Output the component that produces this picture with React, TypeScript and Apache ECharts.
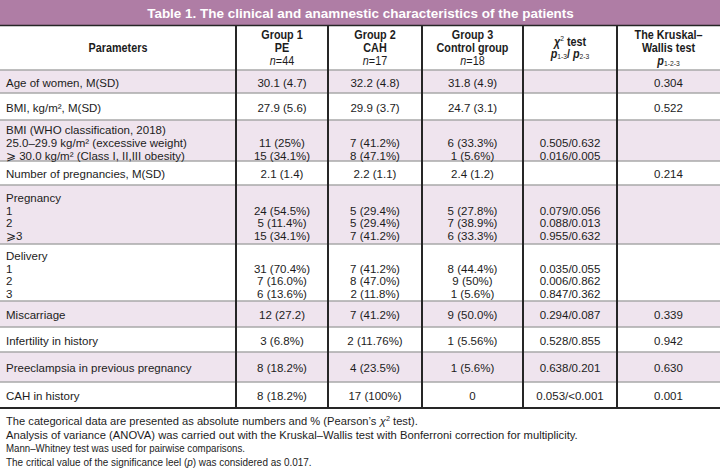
import React, { useEffect, useRef } from "react";
import * as echarts from "echarts";

const titleText = "Table 1. The clinical and anamnestic characteristics of the patients";

const parameters: string[][] = [
  ["Age of women, M(SD)"],
  ["BMI, kg/m², M(SD)"],
  ["BMI (WHO classification, 2018)", "25.0–29.9 kg/m² (excessive weight)", "⩾ 30.0 kg/m² (Class I, II,III obesity)"],
  ["Number of pregnancies, M(SD)"],
  ["Pregnancy", "1", "2", "⩾3"],
  ["Delivery", "1", "2", "3"],
  ["Miscarriage"],
  ["Infertility in history"],
  ["Preeclampsia in previous pregnancy"],
  ["CAH in history"],
];

const group1: string[][] = [
  ["30.1 (4.7)"],
  ["27.9 (5.6)"],
  ["", "11 (25%)", "15 (34.1%)"],
  ["2.1 (1.4)"],
  ["", "24 (54.5%)", "5 (11.4%)", "15 (34.1%)"],
  ["", "31 (70.4%)", "7 (16.0%)", "6 (13.6%)"],
  ["12 (27.2)"],
  ["3 (6.8%)"],
  ["8 (18.2%)"],
  ["8 (18.2%)"],
];

const group2: string[][] = [
  ["32.2 (4.8)"],
  ["29.9 (3.7)"],
  ["", "7 (41.2%)", "8 (47.1%)"],
  ["2.2 (1.1)"],
  ["", "5 (29.4%)", "5 (29.4%)", "7 (41.2%)"],
  ["", "7 (41.2%)", "8 (47.0%)", "2 (11.8%)"],
  ["7 (41.2%)"],
  ["2 (11.76%)"],
  ["4 (23.5%)"],
  ["17 (100%)"],
];

const group3: string[][] = [
  ["31.8 (4.9)"],
  ["24.7 (3.1)"],
  ["", "6 (33.3%)", "1 (5.6%)"],
  ["2.4 (1.2)"],
  ["", "5 (27.8%)", "7 (38.9%)", "6 (33.3%)"],
  ["", "8 (44.4%)", "9 (50%)", "1 (5.6%)"],
  ["9 (50.0%)"],
  ["1 (5.56%)"],
  ["1 (5.6%)"],
  ["0"],
];

const chiSquare: string[][] = [
  [""],
  [""],
  ["", "0.505/0.632", "0.016/0.005"],
  [""],
  ["", "0.079/0.056", "0.088/0.013", "0.955/0.632"],
  ["", "0.035/0.055", "0.006/0.862", "0.847/0.362"],
  ["0.294/0.087"],
  ["0.528/0.855"],
  ["0.638/0.201"],
  ["0.053/<0.001"],
];

const kruskalWallis: string[][] = [
  ["0.304"],
  ["0.522"],
  [""],
  ["0.214"],
  [""],
  [""],
  ["0.339"],
  ["0.942"],
  ["0.630"],
  ["0.001"],
];

// header cells (rich text markup), one list of lines per column
const headerCells: string[][] = [
  ["{h|Parameters}"],
  ["{h|Group 1}", "{h|PE}", "{ni|n}{n|=44}"],
  ["{h|Group 2}", "{h|CAH}", "{ni|n}{n|=17}"],
  ["{h|Group 3}", "{h|Control group}", "{ni|n}{n|=18}"],
  ["{hi|χ}{sup|2}{h| test}", "{pi|p}{sub|1-3}{h|/ }{pi|p}{sub|2-3}"],
  ["{h|The Kruskal–}", "{h|Wallis test}", "{pi|p}{sub|1-2-3}"],
];

const footnotes: string[] = [
  "{t|The categorical data are presented as absolute numbers and % (Pearson’s }{ti|χ}{ts|2}{t| test).}",
  "{t|Analysis of variance (ANOVA) was carried out with the Kruskal–Wallis test with Bonferroni correction for multiplicity.}",
  "{t|Mann–Whitney test was used for pairwise comparisons.}",
  "{t|The critical value of the significance leel (}{ti|p}{t|) was considered as 0.017.}",
];

// layout
const W = 720;
const H = 469;
const colEdges = [0, 236, 328, 422, 523, 617, 720];
const titleH = 25;
const headerBottom = 70;
const rowEdges = [70, 93, 120, 161, 185, 244, 301, 327, 352, 382, 408];
const lineH = 12.7;
const footY = [421, 434.5, 448, 462];
const footRight = [420, 578, 245, 312];
const titleSpan = [147, 574];

const PURPLE = "#AF7DA5";
const SHADE = "#EFE4EE";
const TEXT = "#1c1c1c";
const GRID_DARK = "#262626";
const GRID_LIGHT = "#a9a9a9";
const BODY_FONT = "'Liberation Sans', Arial, Helvetica, sans-serif";
const BODY_SIZE = 11.5;
const HEAD_SIZE = 12;
const HEAD_SCALE = 0.9;
const TITLE_SIZE = 13.5;

let measureCtx: CanvasRenderingContext2D | null = null;
function measure(text: string, font: string): number {
  if (!measureCtx) measureCtx = document.createElement("canvas").getContext("2d");
  if (!measureCtx) return text.length * 6;
  measureCtx.font = font;
  return measureCtx.measureText(text).width;
}
function plain(markup: string): string {
  return markup.replace(/\{[a-z]+\|([^}]*)\}/g, "$1");
}

function buildGraphic() {
  const els: any[] = [];
  // title band
  els.push({ type: "rect", shape: { x: 0, y: 0, width: W, height: titleH }, style: { fill: PURPLE }, silent: true });
  const titleW = measure(titleText, `bold ${TITLE_SIZE}px ${BODY_FONT}`);
  const titleScale = Math.min(1, (titleSpan[1] - titleSpan[0]) / titleW);
  els.push({
    type: "text",
    x: (titleSpan[0] + titleSpan[1]) / 2,
    y: titleH / 2 + 0.5,
    scaleX: titleScale,
    style: {
      text: titleText,
      fill: "#ffffff",
      fontFamily: BODY_FONT,
      fontWeight: "bold",
      fontSize: TITLE_SIZE,
      align: "center",
      verticalAlign: "middle",
    },
  });

  // row backgrounds
  const columns = [parameters, group1, group2, group3, chiSquare, kruskalWallis];
  for (let r = 0; r < parameters.length; r++) {
    if (r % 2 === 0) {
      els.push({
        type: "rect",
        shape: { x: 0, y: rowEdges[r], width: W, height: rowEdges[r + 1] - rowEdges[r] },
        style: { fill: SHADE },
        silent: true,
      });
    }
  }

  // horizontal lines
  for (let r = 0; r < rowEdges.length - 1; r++) {
    els.push({
      type: "line",
      shape: { x1: 0, y1: rowEdges[r], x2: W, y2: rowEdges[r] },
      style: { stroke: GRID_LIGHT, lineWidth: 1.6 },
      silent: true,
    });
  }
  els.push({ type: "line", shape: { x1: 0, y1: titleH + 0.5, x2: W, y2: titleH + 0.5 }, style: { stroke: GRID_DARK, lineWidth: 1.5 }, silent: true });
  els.push({ type: "line", shape: { x1: 0, y1: rowEdges[rowEdges.length - 1], x2: W, y2: rowEdges[rowEdges.length - 1] }, style: { stroke: GRID_DARK, lineWidth: 2 }, silent: true });

  // vertical lines
  for (let c = 1; c < colEdges.length - 1; c++) {
    els.push({
      type: "line",
      shape: { x1: colEdges[c], y1: titleH, x2: colEdges[c], y2: rowEdges[rowEdges.length - 1] },
      style: { stroke: GRID_DARK, lineWidth: 2 },
      silent: true,
    });
  }

  // header
  const hTok = { fontFamily: BODY_FONT, fontSize: HEAD_SIZE, fontWeight: "bold", fill: TEXT, lineHeight: 14 };
  const rich = {
    h: { ...hTok },
    hi: { ...hTok, fontStyle: "italic" },
    n: { ...hTok, fontWeight: "normal" },
    ni: { ...hTok, fontWeight: "normal", fontStyle: "italic" },
    pi: { ...hTok, fontStyle: "italic" },
    sub: { fontFamily: BODY_FONT, fontSize: 7.5, fontWeight: "normal", fill: TEXT, lineHeight: 6, verticalAlign: "bottom" },
    sup: { fontFamily: BODY_FONT, fontSize: 7.5, fontWeight: "normal", fill: TEXT, lineHeight: 6, verticalAlign: "top" },
  };
  const headerLineH = 13;
  const headerMid = (titleH + headerBottom) / 2 + 0.5;
  headerCells.forEach((lines, c) => {
    const cx = (colEdges[c] + colEdges[c + 1]) / 2;
    const lh = lines.length === 2 ? 11.8 : headerLineH;
    lines.forEach((ln, i) => {
      els.push({
        type: "text",
        x: cx,
        y: headerMid + (i - (lines.length - 1) / 2) * lh,
        scaleX: HEAD_SCALE,
        style: { text: ln, rich, align: "center", verticalAlign: "middle", fontFamily: BODY_FONT, fontSize: HEAD_SIZE, fill: TEXT },
      });
    });
  });

  // body
  columns.forEach((col, c) => {
    col.forEach((lines, r) => {
      const top = rowEdges[r];
      const bottom = rowEdges[r + 1];
      const mid = (top + bottom) / 2 + 1 + (lines.length > 1 ? 1.5 : 0);
      lines.forEach((ln, i) => {
        if (!ln) return;
        const x = c === 0 ? 6 : (colEdges[c] + colEdges[c + 1]) / 2;
        els.push({
          type: "text",
          x,
          y: mid + (i - (lines.length - 1) / 2) * lineH,
          style: {
            text: ln,
            fill: TEXT,
            fontFamily: BODY_FONT,
            fontSize: BODY_SIZE,
            align: c === 0 ? "left" : "center",
            verticalAlign: "middle",
          },
        });
      });
    });
  });

  // footnotes: fit each line to the reference's line length, splitting the
  // correction between a slightly smaller size and a slight horizontal squeeze
  footnotes.forEach((ln, i) => {
    const w = measure(plain(ln), `${BODY_SIZE}px ${BODY_FONT}`);
    const s = Math.max(0.84, Math.min(1.05, (footRight[i] - 6) / w));
    const k = Math.sqrt(s);
    const size = BODY_SIZE * k;
    const fTok = { fontFamily: BODY_FONT, fontSize: size, fill: TEXT, lineHeight: 13 };
    const fRich = {
      t: { ...fTok },
      ti: { ...fTok, fontStyle: "italic" },
      ts: { fontFamily: BODY_FONT, fontSize: 7.5 * k, fill: TEXT, lineHeight: 6, verticalAlign: "top" },
    };
    els.push({
      type: "text",
      x: 6,
      y: footY[i],
      scaleX: k,
      style: { text: ln, rich: fRich, align: "left", verticalAlign: "middle", fontFamily: BODY_FONT, fontSize: size, fill: TEXT },
    });
  });

  return els;
}

export default function App() {
  const ref = useRef<HTMLDivElement>(null);
  useEffect(() => {
    if (!ref.current) return;
    const chart = echarts.init(ref.current, undefined, { renderer: "svg" });
    chart.setOption({
      animation: false,
      backgroundColor: "#ffffff",
      graphic: { elements: buildGraphic() },
    });
    return () => chart.dispose();
  }, []);
  return (
    <div
      ref={ref}
      style={{ position: "fixed", left: 0, top: 0, width: W, height: H, background: "#fff" }}
    />
  );
}
